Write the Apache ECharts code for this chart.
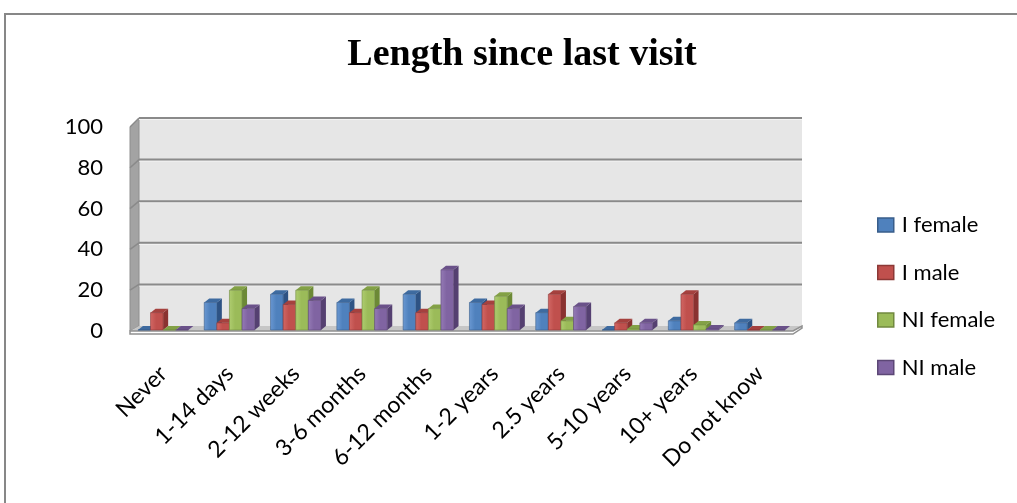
<!DOCTYPE html>
<html>
<head>
<meta charset="utf-8">
<title>Length since last visit</title>
<script src="https://cdn.jsdelivr.net/npm/echarts@6/dist/echarts.min.js"></script>
<style>
  html, body { margin: 0; padding: 0; background: #fff; }
  #chart { width: 1017px; height: 503px; }
</style>
</head>
<body>
<div id="chart"></div>
<script>
// Categories and series values (percent of respondents)
const categories = ['Never', '1-14 days', '2-12 weeks', '3-6 months', '6-12 months',
                    '1-2 years', '2.5 years', '5-10 years', '10+ years', 'Do not know'];
const iFemale  = [0, 14, 18, 14, 18, 14, 9, 0, 5, 4];
const iMale    = [9, 4, 13, 9, 9, 13, 18, 4, 18, 0];
const niFemale = [0, 20, 20, 20, 11, 17, 5, 1, 3, 0];
const niMale   = [0, 11, 15, 11, 30, 11, 12, 4, 1, 0];
const seriesNames = ['I female', 'I male', 'NI female', 'NI male'];
const yTicks = [0, 20, 40, 60, 80, 100];

// Face shades for the pseudo-3D columns
const shades = [
  { front: '#4F81BD', light: '#6A98D2', top: '#3E6BA0', side: '#2E5384', edge: '#385D8A' },
  { front: '#C0504D', light: '#D26865', top: '#A5413E', side: '#8A3230', edge: '#8C3836' },
  { front: '#9BBB59', light: '#AFCD70', top: '#83A146', side: '#6C8936', edge: '#71893F' },
  { front: '#8064A2', light: '#957BB6', top: '#6A5189', side: '#554071', edge: '#5C4776' }
];

// Depth offset of the back wall relative to the front plane
const WALL_DX = 9;
function wallDy(v) { return -5 - 4 * v / 100; }

const BAR_DX = 5, BAR_DY = -4;

function columnRenderer(k) {
  return function (params, api) {
    const cat = api.value(0);
    const val = api.value(1);
    const base = api.coord([cat, 0]);
    const top = api.coord([cat, val]);
    const band = api.size([1, 0])[0];
    const step = band * 0.19;
    const w = step;
    const x0 = base[0] + (k - 2) * step;
    const x1 = x0 + w;
    const yb = base[1] - 1;
    const yt = Math.min(top[1], yb);
    const c = shades[k];
    return {
      type: 'group',
      children: [
        { type: 'polygon',
          shape: { points: [[x1, yb], [x1 + BAR_DX, yb + BAR_DY], [x1 + BAR_DX, yt + BAR_DY], [x1, yt]] },
          style: { fill: c.side } },
        { type: 'polygon',
          shape: { points: [[x0, yt], [x0 + BAR_DX, yt + BAR_DY], [x1 + BAR_DX, yt + BAR_DY], [x1, yt]] },
          style: { fill: c.top } },
        { type: 'rect',
          shape: { x: x0, y: yt, width: w, height: yb - yt },
          style: {
            fill: new echarts.graphic.LinearGradient(0, 0, 1, 0, [
              { offset: 0, color: c.light }, { offset: 0.45, color: c.front }, { offset: 1, color: c.front }
            ]),
            stroke: c.edge, lineWidth: 0.6
          } }
      ]
    };
  };
}

// Back wall, side wall and floor
function wallRenderer(params, api) {
  const cs = params.coordSys;
  const x0 = cs.x, x1 = cs.x + cs.width;
  const y0 = api.coord([0, 0])[1];
  const y100 = api.coord([0, 100])[1];
  const b0 = y0 + wallDy(0), b100 = y100 + wallDy(100);
  return {
    type: 'group',
    children: [
      { type: 'polygon',
        shape: { points: [[x0 + WALL_DX, b0], [x1 + WALL_DX, b0], [x1 + WALL_DX, b100], [x0 + WALL_DX, b100]] },
        style: { fill: '#E6E6E6' } },
      { type: 'polygon',
        shape: { points: [[x0, y0], [x0 + WALL_DX, b0], [x0 + WALL_DX, b100], [x0, y100]] },
        style: { fill: '#A3A3A3', stroke: '#8E8E8E', lineWidth: 1 } },
      { type: 'polygon',
        shape: { points: [[x0, y0], [x1, y0], [x1 + WALL_DX, b0], [x0 + WALL_DX, b0]] },
        style: { fill: '#C6C6C6' } },
      { type: 'polygon',
        shape: { points: [[x0, y0], [x1, y0], [x1 + WALL_DX, b0], [x1 + WALL_DX, b0 + 2], [x1, y0 + 3], [x0, y0 + 3]] },
        style: { fill: 'none', stroke: '#909090', lineWidth: 1.5 } }
    ]
  };
}

// Horizontal gridlines drawn on the back and side walls
function gridRenderer(params, api) {
  const v = api.value(0);
  const cs = params.coordSys;
  const x0 = cs.x, x1 = cs.x + cs.width;
  const yf = api.coord([0, v])[1];
  const yb = yf + wallDy(v);
  if (v === 0) return { type: 'group', children: [] };
  return {
    type: 'group',
    children: [
      { type: 'line', shape: { x1: x0 + WALL_DX, y1: yb + 1.5, x2: x1 + WALL_DX, y2: yb + 1.5 },
        style: { stroke: '#F4F4F4', lineWidth: 1 } },
      { type: 'line', shape: { x1: x0 + WALL_DX, y1: yb, x2: x1 + WALL_DX, y2: yb },
        style: { stroke: '#8A8A8A', lineWidth: 2 } },
      { type: 'line', shape: { x1: x0, y1: yf, x2: x0 + WALL_DX, y2: yb },
        style: { stroke: '#8A8A8A', lineWidth: 1.5 } }
    ]
  };
}

const valueLists = [iFemale, iMale, niFemale, niMale];

const series = [
  { type: 'custom', name: 'walls', z: 1, silent: true, renderItem: wallRenderer, data: [[0]] },
  { type: 'custom', name: 'gridlines', z: 2, silent: true, renderItem: gridRenderer,
    data: yTicks.map(v => [v]), encode: { y: 0 } }
];
valueLists.forEach((vals, k) => {
  series.push({
    type: 'custom',
    name: seriesNames[k],
    z: 3,
    renderItem: columnRenderer(k),
    itemStyle: { color: shades[k].front },
    encode: { x: 0, y: 1 },
    data: vals.map((v, i) => [i, v])
  });
});

const chart = echarts.init(document.getElementById('chart'), null, { renderer: 'canvas' });
chart.setOption({
  animation: false,
  backgroundColor: '#ffffff',
  title: {
    text: 'Length since last visit',
    left: 517,
    top: 31,
    textAlign: 'center',
    textStyle: { fontFamily: 'Liberation Serif', fontWeight: 'bold', fontSize: 38, color: '#000' }
  },
  legend: {
    orient: 'vertical',
    left: 872,
    top: 209,
    itemWidth: 16,
    itemHeight: 14,
    itemGap: 25.5,
    icon: 'rect',
    data: seriesNames.map((n, k) => ({
      name: n,
      itemStyle: { color: shades[k].front, borderColor: shades[k].edge, borderWidth: 1.5 }
    })),
    textStyle: { fontFamily: 'Lato', fontSize: 22, color: '#000', lineHeight: 20, padding: [0, 0, 0, 3] }
  },
  grid: { left: 130, right: 224, top: 127, bottom: 172 },
  xAxis: {
    type: 'category',
    data: categories,
    axisLine: { show: false },
    axisTick: { show: false },
    splitLine: { show: false },
    axisLabel: { rotate: 45, margin: 39, interval: 0, fontFamily: 'Lato', fontSize: 23, color: '#000' }
  },
  yAxis: {
    type: 'value',
    min: 0,
    max: 100,
    interval: 20,
    axisLine: { show: false },
    axisTick: { show: false },
    splitLine: { show: false },
    axisLabel: { margin: 27, fontFamily: 'Lato', fontSize: 22, color: '#000' }
  },
  graphic: [
    { type: 'rect', silent: true, z: 0,
      shape: { x: 5, y: 14, width: 1100, height: 600 },
      style: { fill: 'none', stroke: '#878787', lineWidth: 2 } }
  ],
  series: series
});
</script>
</body>
</html>
